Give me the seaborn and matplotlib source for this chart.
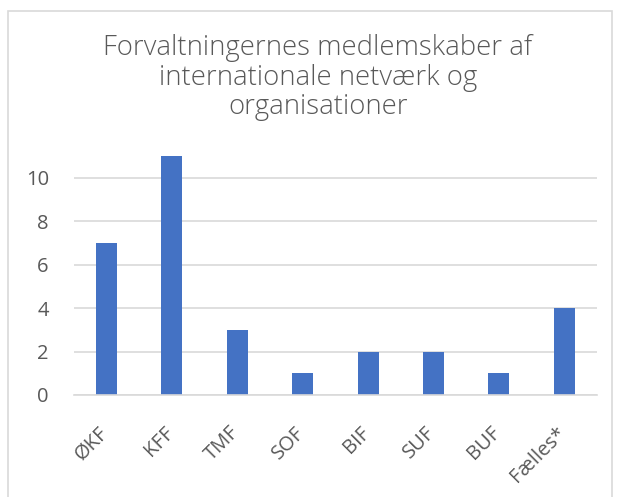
import matplotlib
matplotlib.use("Agg")
import matplotlib.pyplot as plt
import matplotlib.transforms as mtrans
import seaborn as sns
import pandas as pd
from matplotlib.patches import Rectangle

categories = ["ØKF", "KFF", "TMF", "SOF", "BIF", "SUF", "BUF", "Fælles*"]
values = [7, 11, 3, 1, 2, 2, 1, 4]
yticks = [0, 2, 4, 6, 8, 10]
title = "Forvaltningernes medlemskaber af\ninternationale netværk og\norganisationer"

sns.set_theme(style="white")
plt.rcParams["font.family"] = ["Open Sans", "DejaVu Sans"]

W, H = 619, 497
fig = plt.figure(figsize=(W / 100, H / 100), dpi=100)
ax = fig.add_axes([73.8 / W, 1 - 395 / H, (597 - 73.8) / W, (395 - 156) / H])

df = pd.DataFrame({"cat": categories, "val": values})
sns.barplot(data=df, x="cat", y="val", color="#4472C4", saturation=1,
            width=0.32, linewidth=0, ax=ax)

ax.set_ylim(0, 11)
ax.set_xlim(-0.5, len(categories) - 0.5)
ax.set_yticks(yticks)
ax.set_yticklabels([str(t) for t in yticks])
ax.yaxis.grid(True, color="#D9D9D9", linewidth=1.2)
ax.set_axisbelow(True)
for s in ["top", "right", "left"]:
    ax.spines[s].set_visible(False)
ax.spines["bottom"].set_color("#D9D9D9")
ax.spines["bottom"].set_linewidth(1.2)
ax.set_xlabel("")
ax.set_ylabel("")
ax.tick_params(axis="both", length=0, colors="#595959", labelsize=14.5)
ax.tick_params(axis="y", pad=18)
ax.tick_params(axis="x", pad=20)
shift = mtrans.ScaledTranslation(-8 / 100, 0, fig.dpi_scale_trans)
for lab in ax.get_xticklabels():
    lab.set_rotation(45)
    lab.set_ha("right")
    lab.set_rotation_mode("anchor")
    lab.set_transform(lab.get_transform() + shift)

fig.text(318 / W, 1 - 34 / H, title, ha="center", va="top",
         fontsize=19.8, color="#595959", linespacing=1.08, fontweight="light")

fig.patches.append(Rectangle((8 / W, -0.05), (612 - 8) / W, 1.05 - 11 / H,
                             transform=fig.transFigure, fill=False,
                             edgecolor="#D9D9D9", linewidth=1.2))

fig.savefig("out.png", dpi=100)
